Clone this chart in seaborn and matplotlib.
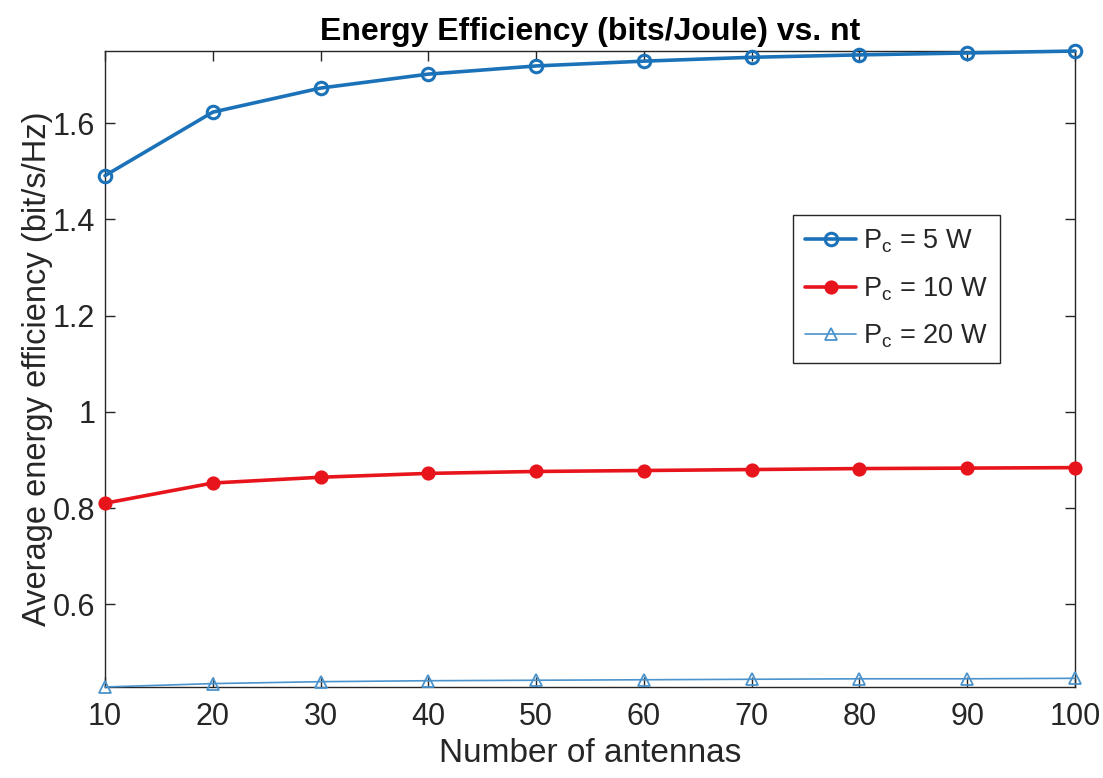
import numpy as np
import pandas as pd
import matplotlib
matplotlib.use("Agg")
import matplotlib.pyplot as plt
import seaborn as sns

# Number of transmit antennas
antennas = [10, 20, 30, 40, 50, 60, 70, 80, 90, 100]

# Average energy efficiency for each circuit power level
ee_pc5 = [1.491, 1.623, 1.673, 1.702, 1.719, 1.729, 1.737, 1.742, 1.746, 1.750]
ee_pc10 = [0.810, 0.852, 0.864, 0.872, 0.876, 0.878, 0.880, 0.882, 0.883, 0.884]
ee_pc20 = [0.428, 0.435, 0.439, 0.441, 0.442, 0.443, 0.444, 0.445, 0.445, 0.446]

labels = [r"P$_\mathregular{c}$ = 5 W", r"P$_\mathregular{c}$ = 10 W", r"P$_\mathregular{c}$ = 20 W"]
x_ticks = [10, 20, 30, 40, 50, 60, 70, 80, 90, 100]
y_ticks = [0.6, 0.8, 1.0, 1.2, 1.4, 1.6]
y_tick_labels = ["0.6", "0.8", "1", "1.2", "1.4", "1.6"]

sns.set_style("ticks")
plt.rcParams["font.family"] = ["Liberation Sans", "DejaVu Sans"]
plt.rcParams["mathtext.fontset"] = "custom"
plt.rcParams["mathtext.rm"] = "Liberation Sans"

fig = plt.figure(figsize=(11.03, 7.78), dpi=100)
ax = fig.add_axes([0.0952, 0.117, 0.8794, 0.8174])

df = pd.DataFrame({
    "nt": antennas * 3,
    "ee": ee_pc5 + ee_pc10 + ee_pc20,
    "series": [labels[0]] * 10 + [labels[1]] * 10 + [labels[2]] * 10,
})

styles = [
    dict(color="#1B72B8", lw=2.6, marker="o", ms=9, mfc="none", mew=2.2),
    dict(color="#E8141C", lw=2.6, marker="o", ms=8, mfc="#E8141C", mew=2.2),
    dict(color="#4A93CC", lw=1.2, marker="^", ms=8, mfc="none", mew=1.3),
]
for lab, st in zip(labels, styles):
    sub = df[df["series"] == lab]
    sns.lineplot(data=sub, x="nt", y="ee", ax=ax, label=lab,
                 color=st["color"], linewidth=st["lw"], marker=st["marker"],
                 markersize=st["ms"], markerfacecolor=st["mfc"],
                 markeredgecolor=st["color"], markeredgewidth=st["mew"],
                 clip_on=False, zorder=3)

ax.set_xlim(10, 100)
ax.set_ylim(min(ee_pc20), max(ee_pc5))
ax.set_xticks(x_ticks)
ax.set_xticklabels([str(v) for v in x_ticks])
ax.set_yticks(y_ticks)
ax.set_yticklabels(y_tick_labels)

for s in ax.spines.values():
    s.set_visible(True)
    s.set_color("#262626")
    s.set_linewidth(1.0)

ax.tick_params(axis="both", direction="in", length=7, width=1.0, colors="#262626",
               labelsize=22, top=True, right=True, labelcolor="#262626")
ax.tick_params(axis="x", pad=11)
ax.tick_params(axis="y", pad=7)

ax.set_xlabel("Number of antennas", fontsize=24, color="#262626", labelpad=4)
ax.set_ylabel("Average energy efficiency (bit/s/Hz)", fontsize=23.5, color="#262626", labelpad=0)
ax.set_title("Energy Efficiency (bits/Joule) vs. nt", fontsize=23, fontweight="bold",
             color="black", pad=8)

leg = ax.legend(loc="upper left", bbox_to_anchor=(0.709, 0.742), borderaxespad=0,
                fontsize=19.5, fancybox=False, framealpha=1, edgecolor="#262626",
                handlelength=1.9, handletextpad=0.25, labelspacing=0.75,
                borderpad=0.45)
leg.get_frame().set_linewidth(1.0)

fig.savefig("out.png", dpi=100, facecolor="white")
